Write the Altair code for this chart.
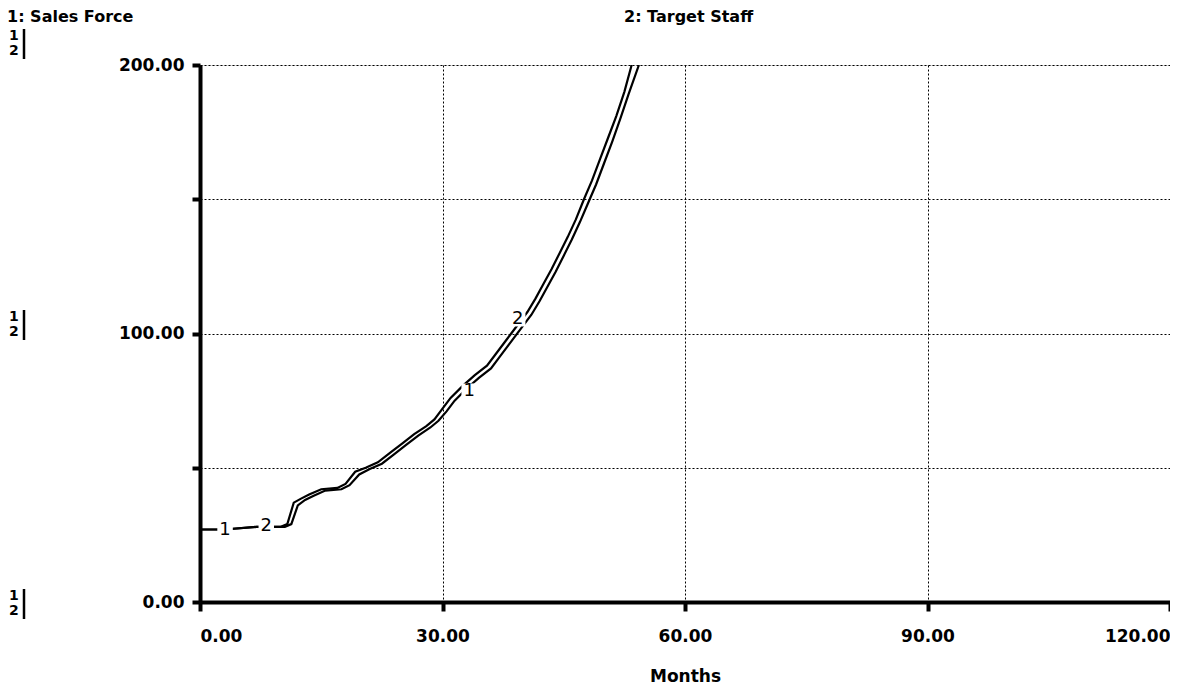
import altair as alt
import pandas as pd

# Series 1: Sales Force
months1 = [0, 3, 7, 10, 10.8, 11.6, 12.5, 13.5, 15, 17, 18, 19.2, 20.5, 22, 23.5, 25,
           26.5, 28, 29, 30, 31, 32.5, 34, 35.5, 36.5, 37.5, 38.5, 39.5, 40.5, 41.5,
           42.5, 43.5, 44.5, 45.5, 46.5, 47.5, 48.5, 49.5, 50.5, 51.5, 52.5, 53.4]
sales_force = [27, 27, 28, 28, 29, 37, 38.5, 40, 42, 42.5, 44, 48.5, 50, 52, 55.5, 59,
               62.5, 65.5, 68, 72, 76, 80.5, 84.5, 88, 92, 96, 100, 104, 108, 113,
               118.5, 124, 130, 136, 142.5, 150, 157, 165, 173, 181, 190, 200]

# Series 2: Target Staff
months2 = [0, 3, 7, 10.5, 11.3, 12.1, 13, 14, 15.5, 17.5, 18.5, 19.7, 21, 22.5, 24, 25.5,
           27, 28.5, 29.5, 30.5, 31.5, 33, 34.5, 36, 37, 38, 39, 40, 41, 42,
           43, 44, 45, 46, 47, 48, 49, 50, 51, 52, 53, 54.3]
target_staff = [27, 27, 28, 28, 29, 36, 38, 39.5, 41.5, 42, 43.5, 47.5, 49.5, 51.5, 55, 58.5,
                62, 65, 67.5, 71, 75, 79.5, 83.5, 87, 91, 95, 99, 103, 107, 112,
                117.5, 123, 129, 135, 141.5, 148.5, 155.5, 163.5, 171.5, 180, 189, 200]

# Line identifier labels placed on the curves
label_text = ["1", "2", "1", "2"]
label_month = [3.1, 8.2, 33.3, 39.3]
label_value = [26.8, 28.2, 78.5, 105.5]

x_ticks = [0, 30, 60, 90, 120]
y_ticks = [0, 50, 100, 150, 200]

FONT = "DejaVu Sans"

df = pd.concat([
    pd.DataFrame({"Months": months1, "value": sales_force, "series": "1: Sales Force"}),
    pd.DataFrame({"Months": months2, "value": target_staff, "series": "2: Target Staff"}),
])
labels = pd.DataFrame({"Months": label_month, "value": label_value, "txt": label_text})

W, H = 970, 537

xscale = alt.Scale(domain=[0, 120], nice=False, zero=False)
yscale = alt.Scale(domain=[0, 200], nice=False, zero=False)

xaxis = alt.Axis(values=x_ticks, format=".2f", title="Months", grid=True,
                 gridDash=[2, 2], gridColor="black", gridWidth=1, gridOpacity=1,
                 domainColor="black", domainWidth=4, tickColor="black", tickWidth=4,
                 tickSize=9, labelFont=FONT, labelFontSize=17, labelFontWeight="bold",
                 labelColor="black", labelPadding=17, labelFlush=True,
                 titleFont=FONT, titleFontSize=17, titleFontWeight="bold",
                 titleColor="black", titlePadding=24)
yaxis = alt.Axis(values=y_ticks, labelExpr="datum.value % 100 == 0 ? format(datum.value, '.2f') : ''",
                 title=None, grid=True, gridDash=[2, 2], gridColor="black", gridWidth=1,
                 gridOpacity=1, domainColor="black", domainWidth=4, tickColor="black",
                 tickWidth=4, tickSize=8, labelFont=FONT, labelFontSize=17,
                 labelFontWeight="bold", labelColor="black", labelPadding=8, labelFlush=False)

lines = alt.Chart(df).mark_line(color="black", strokeWidth=2.2, clip=True).encode(
    x=alt.X("Months:Q", scale=xscale, axis=xaxis),
    y=alt.Y("value:Q", scale=yscale, axis=yaxis),
    detail="series:N",
)

bg = alt.Chart(labels).mark_square(color="white", opacity=1, size=240).encode(
    x=alt.X("Months:Q", scale=xscale),
    y=alt.Y("value:Q", scale=yscale),
)
txt = alt.Chart(labels).mark_text(font=FONT, fontSize=18, color="black").encode(
    x=alt.X("Months:Q", scale=xscale),
    y=alt.Y("value:Q", scale=yscale),
    text="txt:N",
)

# Header titles (outside plot area)
hdr = pd.DataFrame({"t": ["1: Sales Force", "2: Target Staff"], "px": [-193, 424], "py": [-48, -48]})
header = alt.Chart(hdr).mark_text(font=FONT, fontSize=16, fontWeight="bold", align="left",
                                   baseline="middle", color="black").encode(
    x=alt.X("px:Q", scale=None), y=alt.Y("py:Q", scale=None), text="t:N")

# Scale bracket markers at left
mk = pd.DataFrame({
    "t": ["1", "2", "1", "2", "1", "2"],
    "px": [-191, -191, -191, -191, -191, -191],
    "py": [-29, -14, 252, 267, 531, 546],
})
markers = alt.Chart(mk).mark_text(font=FONT, fontSize=14, fontWeight="bold", align="left",
                                  baseline="middle", color="black").encode(
    x=alt.X("px:Q", scale=None), y=alt.Y("py:Q", scale=None), text="t:N")
br = pd.DataFrame({"px": [-176, -176, -176], "py": [-36, 245, 524], "py2": [-6, 275, 554]})
brackets = alt.Chart(br).mark_rule(color="black", strokeWidth=2.5).encode(
    x=alt.X("px:Q", scale=None), y=alt.Y("py:Q", scale=None), y2="py2:Q")

chart = alt.layer(lines, bg, txt, header, markers, brackets).properties(
    width=W, height=H,
    autosize=alt.AutoSizeParams(type="none"),
    padding={"left": 192, "top": 57, "right": 0, "bottom": 84},
).configure_view(stroke=None).configure(background="white")

chart.save("out.html", embed_options={"renderer": "svg", "actions": False})
